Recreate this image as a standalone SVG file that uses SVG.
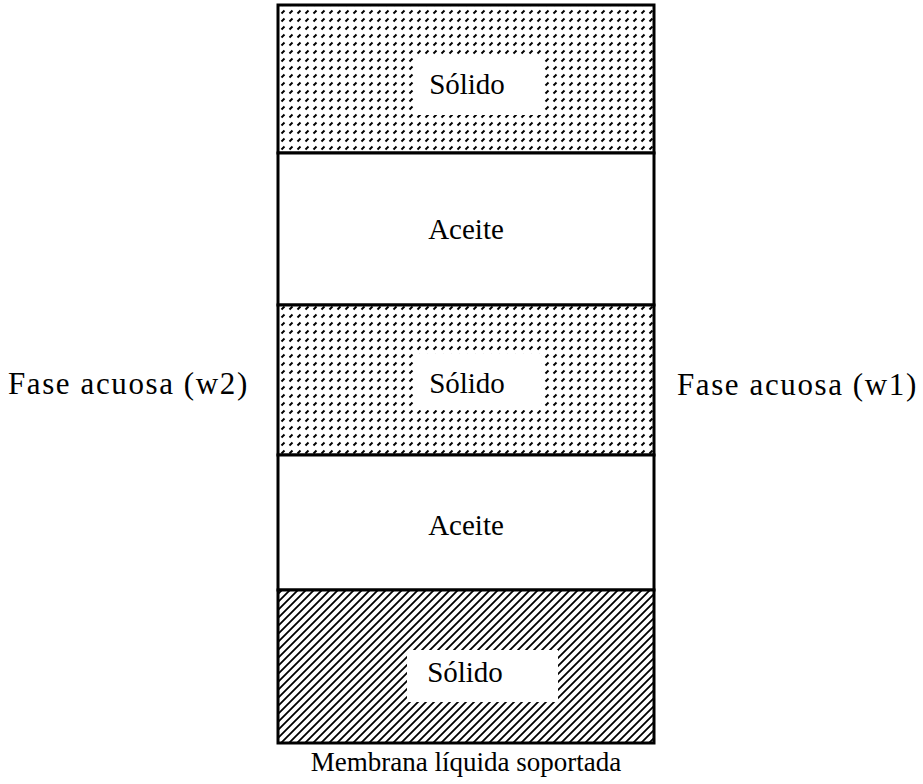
<svg xmlns="http://www.w3.org/2000/svg" width="923" height="784" viewBox="0 0 923 784">
  <style>
    text { font-family: "Liberation Serif", "Times New Roman", serif; font-size: 29px; fill: #000; text-anchor: middle; }
    .side { text-anchor: start; font-size: 31px; letter-spacing: 1.6px; }
    .caption { font-size: 27px; }
    .layer { stroke: #000; stroke-width: 3; }
    .label-bg { fill: #fff; stroke: none; }
  </style>
  <defs>
    <!-- small diagonal dashes for the porous solid -->
    <pattern id="dots" width="8" height="8" patternUnits="userSpaceOnUse">
      <rect width="8" height="8" fill="#fff"/>
      <path d="M1.5 5.5 L4.5 2.5" stroke="#000" stroke-width="2"/>
    </pattern>
    <!-- diagonal hatch for the bottom solid -->
    <pattern id="hatch" width="8" height="8" patternUnits="userSpaceOnUse">
      <rect width="8" height="8" fill="#fff"/>
      <path d="M-1 9 L9 -1 M-5 5 L5 -5 M3 13 L13 3" stroke="#000" stroke-width="1.8"/>
    </pattern>
  </defs>

  <g id="solid-top">
    <rect class="layer" x="278" y="5" width="376" height="148" fill="url(#dots)"/>
    <rect class="label-bg" x="415" y="55" width="128" height="60"/>
    <text x="467" y="94">Sólido</text>
  </g>

  <g id="oil-top">
    <rect class="layer" x="278" y="153" width="376" height="152" fill="#fff"/>
    <text x="466" y="239">Aceite</text>
  </g>

  <g id="solid-middle">
    <rect class="layer" x="278" y="305" width="376" height="150" fill="url(#dots)"/>
    <rect class="label-bg" x="415" y="354" width="126" height="56"/>
    <text x="467" y="393">Sólido</text>
  </g>

  <g id="oil-bottom">
    <rect class="layer" x="278" y="455" width="376" height="135" fill="#fff"/>
    <text x="466" y="535">Aceite</text>
  </g>

  <g id="solid-bottom">
    <rect class="layer" x="278" y="590" width="376" height="153" fill="url(#hatch)"/>
    <rect class="label-bg" x="407" y="650" width="151" height="52"/>
    <text x="465" y="682">Sólido</text>
  </g>

  <g id="phase-w2">
    <text class="side" x="8" y="394">Fase acuosa (w2)</text>
  </g>

  <g id="phase-w1">
    <text class="side" x="677" y="395">Fase acuosa (w1)</text>
  </g>

  <g id="caption">
    <text class="caption" x="466" y="771">Membrana líquida soportada</text>
  </g>

  <g id="connectors"/>
</svg>
